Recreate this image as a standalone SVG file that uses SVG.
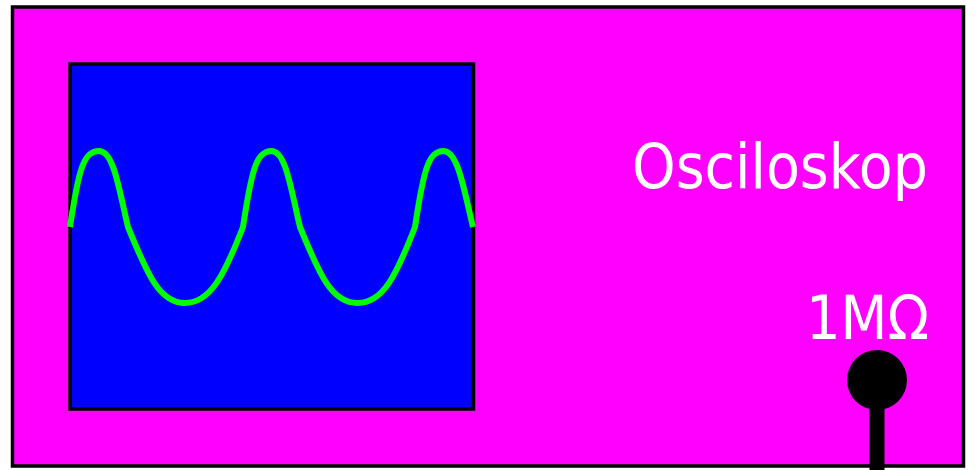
<svg xmlns="http://www.w3.org/2000/svg" width="976" height="470" viewBox="0 0 976 470">
<style>
.box{stroke:#000;stroke-width:3.5}
.lbl{fill:#fff;font-family:"DejaVu Sans",Verdana,sans-serif}
.wave{fill:none;stroke:#00ff00;stroke-width:6;stroke-linejoin:round}
</style>
<rect width="976" height="470" fill="#fff"/>
<g id="oscilloscope">
<rect class="box" x="12.5" y="7" width="951" height="459" fill="#ff00ff"/>
</g>
<g id="screen">
<rect class="box" x="70" y="64" width="403.5" height="345" fill="#0000ff"/>
<path class="wave" d="M70,227 C79,167 84,151 99,151 C114,151 119,190 128,227 C148,276 160,303 185,303 C210,303 224,276 243,227 C252,167 257,151 271.5,151 C286,151 291,190 300,227 C320,276 332,303 357.5,303 C383,303 396,276 415,227 C424,167 429,151 443.5,151 C458,151 464,190 473,227"/>
</g>
<g id="label">
<text class="lbl" x="928" y="188" font-size="62" text-anchor="end" textLength="296" lengthAdjust="spacingAndGlyphs">Osciloskop</text>
<text class="lbl" x="929" y="339" font-size="60" text-anchor="end" textLength="123" lengthAdjust="spacingAndGlyphs">1MΩ</text>
</g>
<g id="connectors">
<line x1="877" y1="380" x2="877" y2="470" stroke="#000" stroke-width="15"/>
<circle cx="877" cy="380" r="30" fill="#000"/>
</g>
</svg>
